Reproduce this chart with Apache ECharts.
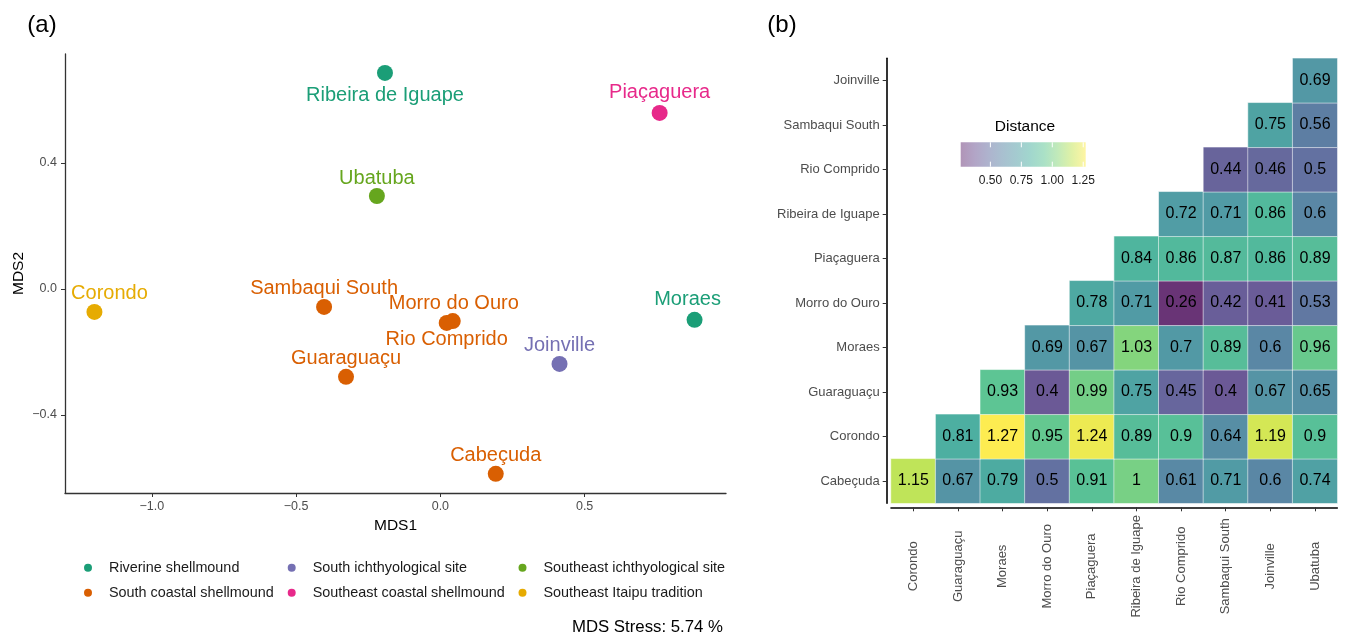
<!DOCTYPE html>
<html>
<head>
<meta charset="utf-8">
<script src="https://cdn.jsdelivr.net/npm/echarts@6/dist/echarts.min.js"></script>
<style>html,body{margin:0;padding:0;background:#fff}#c{width:1349px;height:637px}</style>
</head>
<body>
<div id="c"></div>
<script>
// ---------- Panel (a): MDS ordination ----------
const siteNames = ['Ribeira de Iguape','Piaçaguera','Ubatuba','Corondo','Sambaqui South','Morro do Ouro','Rio Comprido','Moraes','Joinville','Guaraguaçu','Cabeçuda'];
const mds1 = [-0.192, 0.760, -0.220, -1.199, -0.403, 0.043, 0.022, 0.881, 0.413, -0.327, 0.192];
const mds2 = [0.686, 0.559, 0.295, -0.073, -0.057, -0.102, -0.108, -0.098, -0.238, -0.279, -0.587];
const siteGroups = ['Riverine shellmound','Southeast coastal shellmound','Southeast ichthyological site','Southeast Itaipu tradition','South coastal shellmound','South coastal shellmound','South coastal shellmound','Riverine shellmound','South ichthyological site','South coastal shellmound','South coastal shellmound'];
const groupNames = ['Riverine shellmound','South coastal shellmound','South ichthyological site','Southeast coastal shellmound','Southeast ichthyological site','Southeast Itaipu tradition'];
const mdsXTicks = [-1.0, -0.5, 0.0, 0.5];
const mdsYTicks = [-0.4, 0.0, 0.4];
const stressText = 'MDS Stress: 5.74 %';

// ---------- Panel (b): distance matrix (lower triangle) ----------
const heatCols = ['Corondo','Guaraguaçu','Moraes','Morro do Ouro','Piaçaguera','Ribeira de Iguape','Rio Comprido','Sambaqui South','Joinville','Ubatuba'];
const heatRows = ['Cabeçuda','Corondo','Guaraguaçu','Moraes','Morro do Ouro','Piaçaguera','Ribeira de Iguape','Rio Comprido','Sambaqui South','Joinville'];
// each row lists its values for the right-most columns (row i covers columns i..9)
const rowCabecuda   = [1.15, 0.67, 0.79, 0.5, 0.91, 1, 0.61, 0.71, 0.6, 0.74];
const rowCorondo    = [0.81, 1.27, 0.95, 1.24, 0.89, 0.9, 0.64, 1.19, 0.9];
const rowGuaraguacu = [0.93, 0.4, 0.99, 0.75, 0.45, 0.4, 0.67, 0.65];
const rowMoraes     = [0.69, 0.67, 1.03, 0.7, 0.89, 0.6, 0.96];
const rowMorro      = [0.78, 0.71, 0.26, 0.42, 0.41, 0.53];
const rowPiacaguera = [0.84, 0.86, 0.87, 0.86, 0.89];
const rowRibeira    = [0.72, 0.71, 0.86, 0.6];
const rowRio        = [0.44, 0.46, 0.5];
const rowSambaqui   = [0.75, 0.56];
const rowJoinville  = [0.69];
const colorbarTicks = [0.50, 0.75, 1.00, 1.25];

// ---------- styling ----------
const FONT = "'Liberation Sans', Arial, Helvetica, sans-serif";
const groupColors = {
  'Riverine shellmound': '#1B9E77',
  'South coastal shellmound': '#D95F02',
  'South ichthyological site': '#7570B3',
  'Southeast coastal shellmound': '#E7298A',
  'Southeast ichthyological site': '#66A61E',
  'Southeast Itaipu tradition': '#E6AB02'
};
const labelOffsets = {
  'Ribeira de Iguape': [0, 23], 'Piaçaguera': [0, -20], 'Ubatuba': [0, -18], 'Corondo': [15, -18],
  'Sambaqui South': [0, -18], 'Morro do Ouro': [1, -18], 'Rio Comprido': [0, 17], 'Moraes': [-7, -20],
  'Joinville': [0, -18], 'Guaraguaçu': [0, -18], 'Cabeçuda': [0, -18]
};
const viridis = ['#440154','#482878','#3E4A89','#31688E','#26828E','#1F9E89','#35B779','#6DCD59','#B4DE2C','#FDE725'];
function rgba(hex, a) {
  const n = parseInt(hex.slice(1), 16);
  return 'rgba(' + ((n >> 16) & 255) + ',' + ((n >> 8) & 255) + ',' + (n & 255) + ',' + a + ')';
}
const fmtTick = v => (v < 0 ? '\u2212' : '') + Math.abs(v).toFixed(1);

// ---------- build series ----------
const scatterSeries = groupNames.map(g => ({
  type: 'scatter', name: g, xAxisIndex: 0, yAxisIndex: 0,
  symbol: 'circle', symbolSize: 16,
  itemStyle: { color: groupColors[g], opacity: 1 },
  label: { show: true, position: 'inside', formatter: '{b}', fontSize: 20, fontFamily: FONT, color: groupColors[g] },
  emphasis: { disabled: true },
  data: siteNames.map((n, i) => ({ n, i })).filter(o => siteGroups[o.i] === g).map(o => ({
    name: o.n, value: [mds1[o.i], mds2[o.i]], label: { offset: labelOffsets[o.n] }
  }))
}));

const rowValues = [rowCabecuda, rowCorondo, rowGuaraguacu, rowMoraes, rowMorro, rowPiacaguera, rowRibeira, rowRio, rowSambaqui, rowJoinville];
const heatData = [];
rowValues.forEach((vals, r) => {
  const start = heatCols.length - vals.length;
  vals.forEach((v, k) => heatData.push([start + k, r, v]));
});
const allVals = heatData.map(d => d[2]);
const vMin = Math.min(...allVals), vMax = Math.max(...allVals);

// colorbar geometry (legend decoration)
const cb = { x: 960.7, y: 142.3, w: 125, h: 24.4 };
const cbX = v => cb.x + (v - vMin) / (vMax - vMin) * cb.w;
const cbGraphics = [
  { type: 'rect', shape: { x: cb.x, y: cb.y, width: cb.w, height: cb.h },
    style: { fill: new echarts.graphic.LinearGradient(0, 0, 1, 0,
      viridis.map((c, i) => ({ offset: i / (viridis.length - 1), color: rgba(c, 0.42) }))) } },
  { type: 'text', x: 1025, y: 127, style: { text: 'Distance', font: '15.5px ' + FONT, fill: '#000', align: 'center', verticalAlign: 'middle' } }
];
colorbarTicks.forEach(t => {
  const x = cbX(t);
  cbGraphics.push({ type: 'line', shape: { x1: x, y1: cb.y, x2: x, y2: cb.y + 5 }, style: { stroke: '#fff', lineWidth: 1 } });
  cbGraphics.push({ type: 'line', shape: { x1: x, y1: cb.y + cb.h - 5, x2: x, y2: cb.y + cb.h }, style: { stroke: '#fff', lineWidth: 1 } });
  cbGraphics.push({ type: 'text', x: x, y: 181, style: { text: t.toFixed(2), font: '12px ' + FONT, fill: '#1a1a1a', align: 'center', verticalAlign: 'middle' } });
});

const legendCommon = {
  orient: 'vertical', top: 559.7, padding: 0, itemGap: 9, itemWidth: 8, itemHeight: 8,
  icon: 'circle', selectedMode: false,
  textStyle: { fontSize: 14.4, fontFamily: FONT, color: '#1a1a1a', lineHeight: 16, padding: [0, 0, 0, 12] }
};

const option = {
  animation: false,
  backgroundColor: '#fff',
  textStyle: { fontFamily: FONT },
  grid: [
    { left: 65, top: 54, width: 661, height: 439 },
    { left: 891, top: 58.3, width: 446.3, height: 445 }
  ],
  xAxis: [
    { type: 'value', gridIndex: 0, min: -1.301, max: 0.990,
      name: 'MDS1', nameLocation: 'middle', nameGap: 22,
      nameTextStyle: { fontSize: 15.5, color: '#000', fontFamily: FONT },
      axisLine: { show: true, onZero: false, lineStyle: { color: '#333', width: 1.3 } },
      axisTick: { show: true, length: 4, customValues: mdsXTicks, lineStyle: { color: '#333' } },
      axisLabel: { customValues: mdsXTicks, formatter: fmtTick, fontSize: 12.5, color: '#4d4d4d', margin: 7, fontFamily: FONT },
      splitLine: { show: false } },
    { type: 'category', gridIndex: 1, data: heatCols, offset: 4,
      axisLine: { show: true, lineStyle: { color: '#000', width: 1.6 } },
      axisTick: { show: true, alignWithLabel: true, length: 4, lineStyle: { color: '#333' } },
      axisLabel: { rotate: 90, interval: 0, align: 'center', margin: 59, fontSize: 13, color: '#4d4d4d', fontFamily: FONT, padding: [9, 0, 0, 0] },
      splitLine: { show: false }, splitArea: { show: false } }
  ],
  yAxis: [
    { type: 'value', gridIndex: 0, min: -0.648, max: 0.746,
      name: 'MDS2', nameLocation: 'middle', nameGap: 38,
      nameTextStyle: { fontSize: 15.5, color: '#000', fontFamily: FONT },
      axisLine: { show: true, onZero: false, lineStyle: { color: '#333', width: 1.3 } },
      axisTick: { show: true, length: 4, customValues: mdsYTicks, lineStyle: { color: '#333' } },
      axisLabel: { customValues: mdsYTicks, formatter: fmtTick, fontSize: 12.5, color: '#4d4d4d', margin: 8, fontFamily: FONT },
      splitLine: { show: false } },
    { type: 'category', gridIndex: 1, data: heatRows, offset: 4.3,
      axisLine: { show: true, lineStyle: { color: '#000', width: 1.6 } },
      axisTick: { show: true, alignWithLabel: true, length: 4, lineStyle: { color: '#333' } },
      axisLabel: { interval: 0, margin: 7, fontSize: 13, color: '#4d4d4d', fontFamily: FONT },
      splitLine: { show: false }, splitArea: { show: false } }
  ],
  legend: [
    Object.assign({}, legendCommon, { left: 84, data: [groupNames[0], groupNames[1]] }),
    Object.assign({}, legendCommon, { left: 287.7, data: [groupNames[2], groupNames[3]] }),
    Object.assign({}, legendCommon, { left: 518.5, data: [groupNames[4], groupNames[5]] })
  ],
  visualMap: {
    type: 'continuous', show: false, seriesIndex: scatterSeries.length,
    min: vMin, max: vMax,
    inRange: { color: viridis.map(c => rgba(c, 0.8)) }
  },
  series: scatterSeries.concat([{
    type: 'heatmap', xAxisIndex: 1, yAxisIndex: 1, data: heatData,
    itemStyle: { borderColor: 'rgba(255,255,255,0.55)', borderWidth: 1 },
    label: { show: true, formatter: p => String(p.value[2]), fontSize: 16, color: '#000', fontFamily: FONT },
    emphasis: { disabled: true }
  }]),
  graphic: [
    { type: 'text', x: 42, y: 25, style: { text: '(a)', font: '24px ' + FONT, fill: '#000', align: 'center', verticalAlign: 'middle' } },
    { type: 'text', x: 782, y: 25, style: { text: '(b)', font: '24px ' + FONT, fill: '#000', align: 'center', verticalAlign: 'middle' } },
    { type: 'text', x: 723, y: 627, style: { text: stressText, font: '16.8px ' + FONT, fill: '#000', align: 'right', verticalAlign: 'middle' } }
  ].concat(cbGraphics)
};

const chart = echarts.init(document.getElementById('c'), null, { renderer: 'canvas' });
chart.setOption(option);
</script>
</body>
</html>
